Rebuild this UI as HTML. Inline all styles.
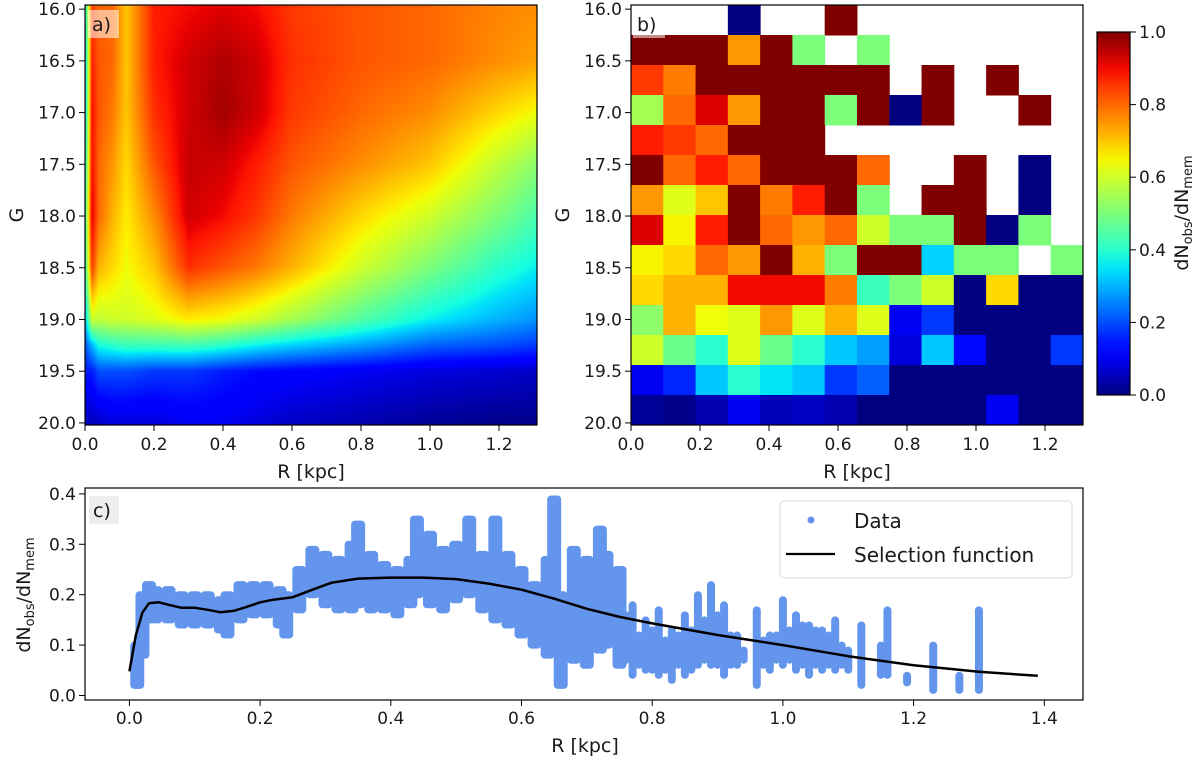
<!DOCTYPE html>
<html><head><meta charset="utf-8">
<style>
html,body{margin:0;padding:0;background:#fff;}
#wrap{position:relative;width:1200px;height:765px;overflow:hidden;font-family:"Liberation Sans","DejaVu Sans",sans-serif;}
canvas{position:absolute;}
svg{position:absolute;left:0;top:0;}
text{font-family:"DejaVu Sans","Liberation Sans",sans-serif;fill:#1a1a1a;}
</style></head>
<body>
<div id="wrap">
<canvas id="heatA" width="452" height="420" style="left:85px;top:5px;width:452px;height:420px"></canvas>
<svg id="svg" width="1200" height="765"></svg>
</div>
<script>
// ---------- Panel a data (smooth selection function grid) ----------
const aR = [0,0.02,0.04,0.08,0.12,0.2,0.3,0.4,0.5,0.6,0.8,1.0,1.2,1.31];
const aG = [16.0,16.5,17.0,17.5,18.0,18.5,19.0,19.25,19.5,20.0];
const aVals = [
 [0.35,0.85,0.80,0.80,0.70,0.88,0.90,0.92,0.90,0.85,0.82,0.80,0.77,0.76],
 [0.30,0.88,0.82,0.80,0.70,0.88,0.93,0.96,0.93,0.86,0.82,0.80,0.76,0.74],
 [0.30,0.90,0.82,0.78,0.70,0.86,0.93,0.97,0.93,0.85,0.80,0.76,0.68,0.64],
 [0.35,0.90,0.80,0.75,0.68,0.82,0.94,0.93,0.88,0.82,0.76,0.70,0.58,0.52],
 [0.40,0.92,0.80,0.72,0.66,0.76,0.93,0.90,0.85,0.78,0.68,0.60,0.50,0.44],
 [0.40,0.85,0.72,0.68,0.64,0.70,0.86,0.82,0.78,0.72,0.60,0.50,0.40,0.36],
 [0.30,0.60,0.58,0.60,0.60,0.62,0.66,0.64,0.60,0.55,0.45,0.36,0.30,0.27],
 [0.20,0.30,0.38,0.40,0.42,0.42,0.43,0.40,0.36,0.33,0.28,0.22,0.20,0.18],
 [0.15,0.15,0.20,0.20,0.20,0.18,0.18,0.15,0.13,0.12,0.10,0.08,0.07,0.06],
 [0.05,0.05,0.06,0.08,0.08,0.08,0.10,0.10,0.08,0.06,0.04,0.02,0.01,0.01]
];
// ---------- Panel b data (binned ratio, null = empty) ----------
const bVals = [
 [null,null,null,0.0,null,null,1.0,null,null,null,null,null,null,null],
 [1,1,1,0.75,1,0.5,null,0.5,null,null,null,null,null,null],
 [0.85,0.78,1,1,1,1,1,1,null,1,null,1,null,null],
 [0.55,0.8,0.92,0.75,1,1,0.5,1,0.0,1,null,null,1,null],
 [0.88,0.85,0.8,1,1,1,null,null,null,null,null,null,null,null],
 [1,0.8,0.88,0.8,1,1,1,0.8,null,null,1,null,0.0,null],
 [0.75,0.62,0.7,1,0.78,0.88,1,0.5,null,1,1,null,0.0,null],
 [0.92,0.65,0.88,1,0.8,0.75,0.8,0.6,0.5,0.5,1,0.0,0.5,null],
 [0.65,0.68,0.8,0.75,1,0.72,0.5,1,1,0.33,0.5,0.5,null,0.5],
 [0.68,0.72,0.72,0.9,0.9,0.9,0.78,0.42,0.5,0.6,0.0,0.68,0.0,0.0],
 [0.52,0.72,0.64,0.62,0.75,0.62,0.72,0.62,0.1,0.18,0,0,0,0],
 [0.6,0.48,0.4,0.62,0.48,0.4,0.32,0.28,0.08,0.32,0.13,0,0,0.18],
 [0.1,0.16,0.32,0.4,0.35,0.32,0.18,0.22,0,0,0,0,0,0],
 [0.02,0.01,0.04,0.1,0.05,0.06,0.04,0,0,0,0,0.1,0,0]
];
const bRmax = 1.31;
// ---------- Panel c data ----------
const dataR  = [0.012,0.02,0.03,0.04,0.06,0.08,0.10,0.12,0.14,0.15,0.17,0.19,0.21,0.23,0.24,0.26,0.28,0.30,0.32,0.34,0.35,0.37,0.39,0.41,0.43,0.44,0.46,0.48,0.50,0.52,0.54,0.56,0.58,0.60,0.62,0.64,0.65,0.66,0.68,0.70,0.72,0.73,0.75,0.77,0.79,0.81,0.83,0.85,0.87,0.89,0.91,0.93,0.96,0.98,1.00,1.02,1.04,1.06,1.08,1.10,1.12,1.15,1.16,1.19,1.23,1.27,1.30,
  0.76,0.78,0.80,0.82,0.84,0.86,0.88,0.90,0.92,0.94,0.97,0.99,1.01,1.03,1.05,1.07,1.09];
const dataLo = [0.02,0.08,0.15,0.15,0.15,0.14,0.14,0.14,0.13,0.12,0.15,0.16,0.16,0.14,0.12,0.17,0.20,0.18,0.17,0.17,0.18,0.17,0.17,0.16,0.18,0.20,0.18,0.17,0.19,0.20,0.17,0.15,0.14,0.12,0.10,0.08,0.10,0.02,0.07,0.06,0.09,0.10,0.06,0.04,0.05,0.04,0.03,0.04,0.06,0.06,0.04,0.06,0.02,0.05,0.06,0.05,0.04,0.05,0.05,0.05,0.02,0.04,0.04,0.025,0.01,0.01,0.01,
  0.07,0.06,0.05,0.05,0.06,0.05,0.07,0.06,0.06,0.07,0.06,0.07,0.07,0.06,0.06,0.06,0.06];
const dataHi = [0.10,0.20,0.22,0.21,0.21,0.20,0.20,0.20,0.19,0.20,0.22,0.22,0.22,0.21,0.20,0.25,0.29,0.28,0.27,0.30,0.34,0.28,0.26,0.25,0.27,0.35,0.32,0.29,0.30,0.35,0.28,0.35,0.28,0.25,0.22,0.27,0.39,0.20,0.29,0.27,0.33,0.28,0.25,0.18,0.15,0.17,0.13,0.16,0.20,0.22,0.18,0.12,0.17,0.12,0.19,0.16,0.14,0.13,0.15,0.09,0.14,0.10,0.17,0.04,0.10,0.04,0.17,
  0.16,0.12,0.13,0.11,0.12,0.13,0.15,0.16,0.12,0.09,0.11,0.12,0.13,0.14,0.13,0.12,0.10];
const selR = [0,0.01,0.02,0.03,0.045,0.06,0.08,0.1,0.12,0.14,0.16,0.18,0.2,0.22,0.25,0.28,0.31,0.35,0.4,0.45,0.5,0.55,0.6,0.65,0.7,0.75,0.8,0.9,1.0,1.1,1.2,1.3,1.39];
const selV = [0.048,0.12,0.165,0.183,0.185,0.18,0.174,0.174,0.17,0.165,0.168,0.176,0.185,0.19,0.195,0.21,0.224,0.232,0.234,0.234,0.231,0.222,0.21,0.192,0.172,0.156,0.143,0.12,0.1,0.078,0.06,0.047,0.039];
const xTicksAB = [0,0.2,0.4,0.6,0.8,1.0,1.2];
const yTicksAB = [16.0,16.5,17.0,17.5,18.0,18.5,19.0,19.5,20.0];
const cbTicks = [0,0.2,0.4,0.6,0.8,1.0];
const xTicksC = [0,0.2,0.4,0.6,0.8,1.0,1.2,1.4];
const yTicksC = [0,0.1,0.2,0.3,0.4];

// ---------- helpers ----------
function jet(v){
  v=Math.max(0,Math.min(1,v));
  function interp(pts){for(let i=0;i<pts.length-1;i++){const a=pts[i],b=pts[i+1];if(v>=a[0]&&v<=b[0]){return a[1]+(b[1]-a[1])*(v-a[0])/(b[0]-a[0]);}}return pts[pts.length-1][1];}
  const r=interp([[0,0],[0.35,0],[0.66,1],[0.89,1],[1,0.5]]);
  const g=interp([[0,0],[0.125,0],[0.375,1],[0.64,1],[0.91,0],[1,0]]);
  const b=interp([[0,0.5],[0.11,1],[0.34,1],[0.65,0],[1,0]]);
  return [Math.round(r*255),Math.round(g*255),Math.round(b*255)];
}
const NS="http://www.w3.org/2000/svg";
const svg=document.getElementById('svg');
function el(tag,attrs,parent){const e=document.createElementNS(NS,tag);for(const k in attrs)e.setAttribute(k,attrs[k]);(parent||svg).appendChild(e);return e;}
function txt(s,attrs,parent){const e=el('text',attrs,parent);e.textContent=s;return e;}

const Gtop=15.96,Gbot=20.02;
const ayPix=g=>5+(g-Gtop)/(Gbot-Gtop)*420;
const axX=r=>85+r*345;
const bxX=r=>631+r*345;
const cX=r=>129.4+r*653.5;
const cY=v=>695.5-v*504;

// ---------- Panel a heat ----------
(function(){
  const cv=document.getElementById('heatA');const ctx=cv.getContext('2d');
  const W=452,H=420;const img=ctx.createImageData(W,H);
  function idx(arr,x){for(let i=0;i<arr.length-1;i++){if(x<=arr[i+1])return [i,(x-arr[i])/(arr[i+1]-arr[i])];}return [arr.length-2,1];}
  for(let py=0;py<H;py++){
    const g=Math.min(20,Math.max(16,Gtop+(py+0.5)/H*(Gbot-Gtop)));
    const [gi,gt]=idx(aG,g);
    for(let px=0;px<W;px++){
      const r=(px+0.5)/345;
      const [ri,rt]=idx(aR,Math.min(r,1.31));
      const v=(aVals[gi][ri]*(1-rt)+aVals[gi][ri+1]*rt)*(1-gt)+(aVals[gi+1][ri]*(1-rt)+aVals[gi+1][ri+1]*rt)*gt;
      const c=jet(v);const o=(py*W+px)*4;
      img.data[o]=c[0];img.data[o+1]=c[1];img.data[o+2]=c[2];img.data[o+3]=255;
    }
  }
  ctx.putImageData(img,0,0);
})();

function abAxes(xf,left,name){
  const g=el('g',{});
  
  el('rect',{x:left,y:5,width:452,height:420,fill:'none',stroke:'#000','stroke-width':1.2},g);
  xTicksAB.forEach(t=>{const x=xf(t);el('line',{x1:x,y1:425,x2:x,y2:431,stroke:'#000'},g);
    const l=txt(t.toFixed(1),{x:x,y:450,'font-size':17,'text-anchor':'middle'},g);});
  yTicksAB.forEach(t=>{const y=ayPix(t);el('line',{x1:left-6,y1:y,x2:left,y2:y,stroke:'#000'},g);
    const l=txt(t.toFixed(1),{x:left-9,y:y+6,'font-size':17,'text-anchor':'end'},g);});
  const xl=txt('R [kpc]',{x:left+226,y:478,'font-size':19,'text-anchor':'middle'},g);
  
  const yl=txt('G',{x:0,y:0,'font-size':19,'text-anchor':'middle',transform:`translate(${left-62},215) rotate(-90)`},g);
  
}

const bg=el('g',{});
const nRows=bVals.length,nCols=bVals[0].length;
const cw=bRmax/nCols;
bVals.forEach((row,i)=>row.forEach((v,j)=>{
  if(v===null)return;
  const x0=bxX(j*cw),x1=bxX((j+1)*cw);
  const y0=5+i*420/nRows,y1=5+(i+1)*420/nRows;
  const c=jet(v);
  const r=el('rect',{x:x0,y:y0,width:x1-x0+0.5,height:y1-y0+0.5,fill:`rgb(${c[0]},${c[1]},${c[2]})`},bg);
  
  
}));
abAxes(axX,85,'panel-a');
abAxes(bxX,631,'panel-b');

function plabel(s,x,y,w,fill,op,name){
  const g=el('g',{});
  el('rect',{x:x,y:y,width:w,height:28,fill:fill,'fill-opacity':op},g);
  txt(s,{x:x+4,y:y+21,'font-size':19},g);
}
plabel('a)',88,10,31,'#fff',0.55,'panel-a-label');
plabel('b)',633,10,32,'#fff',0.55,'panel-b-label');
plabel('c)',89,496,30,'#eeeeee',1,'panel-c-label');

(function(){
  const defs=el('defs',{});
  const lg=el('linearGradient',{id:'cbg',x1:0,y1:1,x2:0,y2:0},defs);
  for(let k=0;k<=20;k++){const c=jet(k/20);el('stop',{offset:k/20,'stop-color':`rgb(${c[0]},${c[1]},${c[2]})`},lg);}
  const g=el('g',{});
  el('rect',{x:1097,y:32,width:33,height:363,fill:'url(#cbg)',stroke:'#000','stroke-width':1.2},g);
  cbTicks.forEach(t=>{const y=395-t*363;el('line',{x1:1130,y1:y,x2:1136,y2:y,stroke:'#000'},g);
    const l=txt(t.toFixed(1),{x:1139,y:y+6,'font-size':17},g);});
  const lab=el('text',{x:0,y:0,'font-size':19,'text-anchor':'middle',transform:'translate(1188,213) rotate(-90)'},g);
  
  lab.innerHTML='dN<tspan font-size="13" dy="4">obs</tspan><tspan dy="-4">/dN</tspan><tspan font-size="13" dy="4">mem</tspan>';
})();

(function(){
  const g=el('g',{});
  const clip=el('clipPath',{id:'cclip'},g);el('rect',{x:85,y:488,width:998,height:212},clip);
  const pts=el('g',{'clip-path':'url(#cclip)'},g);
  
  dataR.forEach((r,i)=>{
    const w=r<0.755?14:8;
    const y1=cY(dataHi[i]),y0=cY(dataLo[i]);
    const b=el('rect',{x:cX(r)-w/2,y:y1-3.5,width:w,height:y0-y1+7,rx:4,fill:'#6495ed'},pts);
    
    
  });
  const d=selR.map((r,i)=>(i?'L':'M')+cX(r).toFixed(1)+' '+cY(selV[i]).toFixed(1)).join(' ');
  const line=el('path',{d:d,fill:'none',stroke:'#000','stroke-width':2.5,'stroke-linejoin':'round'},g);
  
  el('rect',{x:85,y:488,width:998,height:212,fill:'none',stroke:'#000','stroke-width':1.2},g);
  xTicksC.forEach(t=>{const x=cX(t);el('line',{x1:x,y1:700,x2:x,y2:706,stroke:'#000'},g);
    const l=txt(t.toFixed(1),{x:x,y:724,'font-size':17,'text-anchor':'middle'},g);});
  yTicksC.forEach(t=>{const y=cY(t);el('line',{x1:79,y1:y,x2:85,y2:y,stroke:'#000'},g);
    const l=txt(t.toFixed(1),{x:76,y:y+6,'font-size':17,'text-anchor':'end'},g);});
  const xl=txt('R [kpc]',{x:585,y:752,'font-size':19,'text-anchor':'middle'},g);
  
  const yl=el('text',{x:0,y:0,'font-size':19,'text-anchor':'middle',transform:'translate(30,595) rotate(-90)'},g);
  
  yl.innerHTML='dN<tspan font-size="13" dy="4">obs</tspan><tspan dy="-4">/dN</tspan><tspan font-size="13" dy="4">mem</tspan>';
  const lg=el('g',{},g);
  el('rect',{x:780,y:501,width:292,height:77,rx:4,fill:'#fff','fill-opacity':0.85,stroke:'#d8d8d8'},lg);
  const e1=el('g',{},lg);
  el('circle',{cx:811,cy:520,r:3.5,fill:'#6495ed'},e1);
  txt('Data',{x:854,y:528,'font-size':20},e1);
  const e2=el('g',{},lg);
  el('line',{x1:786,y1:554,x2:835,y2:554,stroke:'#000','stroke-width':2.2},e2);
  txt('Selection function',{x:854,y:562,'font-size':20},e2);
})();
</script>
</body></html>
